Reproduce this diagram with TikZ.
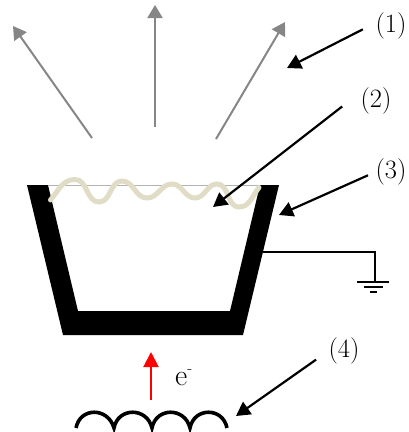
\documentclass[tikz,border=0pt]{standalone}
\usepackage{fontspec}
\usepackage{xcolor}
\usepackage{tikz}
\usetikzlibrary{arrows.meta}
\definecolor{foilcolor}{HTML}{E0DCC6}

\begin{document}
\begin{tikzpicture}[
    x=1pt, y=-1pt,
    lab/.style={font=\fontsize{26.5}{28}\selectfont, inner sep=0pt},
    ptr/.style={-{Triangle[length=14pt,width=15pt]}, line width=2.2pt, black},
    ray/.style={-{Triangle[length=13pt,width=15pt]}, line width=2pt, gray!95},
    wire/.style={line width=1.6pt, black}
]
\useasboundingbox (0,0) rectangle (408,432);

% cup
\fill[black] (27,185) -- (48,185) -- (78,311) -- (230,311) -- (260,185) -- (279,185)
             -- (243,335) -- (63,335) -- cycle;
\draw[gray!60, line width=0.6pt] (48,185) -- (260,185);
\draw[foilcolor, line width=5pt, line cap=round]
    (50.5,200) to[out=50,in=180] (75,179.5) to[out=0,in=180] (99,202) to[out=0,in=180] (122,181)
    to[out=0,in=180] (147,198) to[out=0,in=180] (172,184) to[out=0,in=180] (195,198)
    to[out=0,in=180] (217,184) to[out=0,in=180] (239,207) to[out=0,in=230] (259,187.5);

% emitted rays
\coordinate (rayA0) at (92,138);   \coordinate (rayA1) at (13,26);
\coordinate (rayB0) at (155,127);  \coordinate (rayB1) at (155,5);
\coordinate (rayC0) at (216,139);  \coordinate (rayC1) at (285,22);
\draw[ray] (rayA0) -- (rayA1);
\draw[ray] (rayB0) -- (rayB1);
\draw[ray] (rayC0) -- (rayC1);

% labels
\node[lab] (lab1) at (391,26) {(1)};
\node[lab] (lab2) at (376,101) {(2)};
\node[lab] (lab3) at (391,172) {(3)};
\node[lab] (lab4) at (344,351) {(4)};
\coordinate (tip1) at (287,68);
\coordinate (tip2) at (213,207);
\coordinate (tip3) at (279,215);
\coordinate (tip4) at (236,416);
\draw[ptr, shorten <=14pt] (lab1.169) -- (tip1);
\draw[ptr, shorten <=23pt] (lab2.151) -- (tip2);
\draw[ptr, shorten <=8pt] (lab3.west) -- (tip3);
\draw[ptr, shorten <=15pt] (lab4.west) -- (tip4);

% ground
\coordinate (wall) at (263,252);
\coordinate (gnd) at (375,282);
\draw[wire] (wall) -- (wall -| gnd) -- (gnd);
\draw[wire] (357,282) -- (389,282);
\draw[wire] (364,287) -- (383,287);
\draw[wire] (370,292) -- (377,292);

% filament
\draw[black, line width=3.6pt]
    (76,428) .. controls (80,407) and (108,407) .. (114,428)
    .. controls (118,407) and (147,407) .. (152,428)
    .. controls (156,407) and (185,407) .. (190,428)
    .. controls (194,407) and (223,407) .. (227,428);

% electrons
\coordinate (beam0) at (151,400);
\coordinate (beam1) at (151,352);
\draw[red, line width=2pt, -{Triangle[length=15pt,width=15pt]}] (beam0) -- (beam1);
\node[font=\fontsize{30}{32}\selectfont, inner sep=0pt, anchor=base west] (elec) at (175,385) {e\raisebox{12pt}{\fontsize{16}{16}\selectfont -}};
\end{tikzpicture}
\end{document}
